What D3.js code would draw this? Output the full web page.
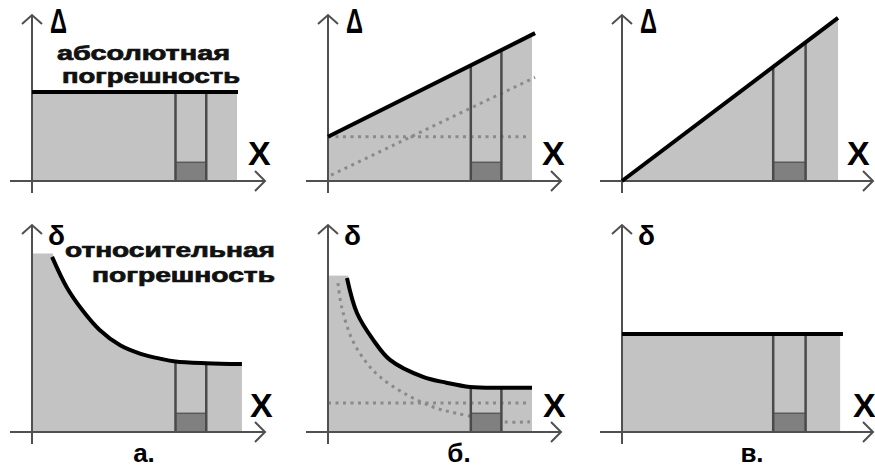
<!DOCTYPE html>
<html>
<head>
<meta charset="utf-8">
<script src="https://cdn.jsdelivr.net/npm/d3@7"></script>
<style>
  html, body { margin: 0; padding: 0; background: #fff; }
  svg { display: block; font-family: "Liberation Sans", Arial, sans-serif; }
</style>
</head>
<body>
<svg id="chart" width="875" height="470"></svg>
<script>
// measurement interval and the small reading box on the x axis
const interval = [7.0, 8.5];
const readingBox = 1.1;

// top row: absolute error Δ(x)
const absConst = [[0, 5.24], [10.05, 5.24]];
const absLinear = [[0, 2.6], [10.15, 8.7]];
const absLinearAdd = [[0, 2.6], [9.8, 2.6]];
const absLinearMul = [[0.15, 0.35], [10.15, 6.1]];
const absProp = [[0, 0], [10, 9.6]];

// bottom row: relative error δ(x)
const relConstAbs = [[0.98, 10.3], [1.7, 8.5], [2.5, 7.1], [3.3, 6.0], [4.3, 5.1],
                     [5.3, 4.6], [6.3, 4.3], [7.0, 4.15], [8.5, 4.05], [10.24, 4.0]];
const relLinear = [[0.93, 9.06], [1.42, 7.0], [2.2, 5.45], [3.04, 4.24], [4.66, 3.24],
                   [5.8, 2.9], [6.96, 2.65], [8.5, 2.6], [10.0, 2.6]];
const relLinearAdd = [[0, 1.7], [9.8, 1.7]];
const relLinearMul = [[0.49, 8.76], [0.67, 7.35], [1.2, 5.4], [1.9, 4.06], [2.55, 3.24],
                      [3.7, 2.3], [5.15, 1.47], [6.3, 1.1], [8.6, 0.6], [9.9, 0.6]];
const relProp = [[0, 5.76], [10.23, 5.76]];

const panelLetters = ["а.", "б.", "в."];
const absTitle = ["абсолютная", "погрешность"];
const relTitle = ["относительная", "погрешность"];

// layout
const COL_X = [32, 328, 622],
      COL_W = [205, 204, 216],
      ROW_Y = [181, 432],
      Y_SPAN = 170,
      X_LABEL_DX = [[216, 214, 225], [218, 215, 231]],
      LETTER_X = [144, 459, 752],
      FILL = "#c3c3c3",
      AXIS = "#505050";

const panels = [
  {row: 0, col: 0, main: absConst, dotted: [], fillEnd: 10.0, symbol: "Δ"},
  {row: 0, col: 1, main: absLinear, dotted: [absLinearAdd, absLinearMul], fillEnd: 10.0, symbol: "Δ"},
  {row: 0, col: 2, main: absProp, dotted: [], fillEnd: 10.0, symbol: "Δ"},
  {row: 1, col: 0, main: relConstAbs, dotted: [], fillEnd: 10.24, cap: [0.98, 10.5], symbol: "δ"},
  {row: 1, col: 1, main: relLinear, dotted: [relLinearAdd, relLinearMul], fillEnd: 10.0, cap: [0.93, 9.2], symbol: "δ"},
  {row: 1, col: 2, main: relProp, dotted: [], fillEnd: 10.1, symbol: "δ"}
];

function valueAt(pts, x) {
  if (x <= pts[0][0]) return pts[0][1];
  for (let i = 1; i < pts.length; i++) {
    if (x <= pts[i][0]) {
      let t = (x - pts[i - 1][0]) / (pts[i][0] - pts[i - 1][0]);
      return pts[i - 1][1] + t * (pts[i][1] - pts[i - 1][1]);
    }
  }
  return pts[pts.length - 1][1];
}

const svg = d3.select("#chart");
const smooth = d3.curveCatmullRom.alpha(0.5);

panels.forEach((p, i) => {
  let ox = COL_X[p.col],
      oy = ROW_Y[p.row],
      x = d3.scaleLinear().domain([0, 10]).range([ox, ox + COL_W[p.col]]),
      y = d3.scaleLinear().domain([0, 10]).range([oy, oy - Y_SPAN]);

  let g = svg.append("g").attr("class", "panel");

  let clipId = "clip" + i;
  g.append("clipPath").attr("id", clipId)
    .append("rect")
    .attr("x", x(0)).attr("y", 0)
    .attr("width", x(p.fillEnd) - x(0)).attr("height", 470);

  let area = d3.area()
      .x(d => x(d[0]))
      .y0(y(0))
      .y1(d => y(d[1]))
      .curve(smooth);

  let line = d3.line()
      .x(d => x(d[0]))
      .y(d => y(d[1]))
      .curve(smooth);

  // gray region under the error curve
  g.append("path")
    .attr("d", area(p.main))
    .attr("clip-path", "url(#" + clipId + ")")
    .attr("fill", FILL);

  if (p.cap) {
    g.append("rect")
      .attr("x", x(0)).attr("y", y(p.cap[1]))
      .attr("width", x(p.cap[0]) - x(0) + 1)
      .attr("height", y(0) - y(p.cap[1]))
      .attr("fill", FILL);
  }

  // components of the error, dotted
  p.dotted.forEach(pts => {
    g.append("path")
      .attr("d", line(pts))
      .attr("fill", "none")
      .attr("stroke", "#8a8a8a")
      .attr("stroke-width", 3)
      .attr("stroke-dasharray", "3,4.5");
  });

  // reading box
  g.append("rect")
    .attr("x", x(interval[0])).attr("y", y(readingBox))
    .attr("width", x(interval[1]) - x(interval[0]))
    .attr("height", y(0) - y(readingBox))
    .attr("fill", "#808080");
  g.append("line")
    .attr("x1", x(interval[0])).attr("x2", x(interval[1]))
    .attr("y1", y(readingBox)).attr("y2", y(readingBox))
    .attr("stroke", "#5a5a5a").attr("stroke-width", 1.5);

  // interval borders
  interval.forEach(v => {
    g.append("line")
      .attr("x1", x(v)).attr("x2", x(v))
      .attr("y1", y(0)).attr("y2", y(valueAt(p.main, v)))
      .attr("stroke", "#4a4a4a")
      .attr("stroke-width", 2.5);
  });

  // axes with open arrow heads
  let top = p.row == 0 ? 15 : 225,
      right = ox + (p.col == 2 ? 251 : 233);
  g.append("path")
    .attr("d", "M" + ox + "," + (oy + 12) + "V" + top +
               "M" + (ox - 10) + "," + (top + 9) + "L" + ox + "," + top + "L" + (ox + 10) + "," + (top + 9) +
               "M" + (ox - 22) + "," + oy + "H" + right +
               "M" + (right - 10) + "," + (oy - 10) + "L" + right + "," + oy + "L" + (right - 10) + "," + (oy + 10))
    .attr("fill", "none")
    .attr("stroke", AXIS)
    .attr("stroke-width", 2);

  // error curve
  g.append("path")
    .attr("d", line(p.main))
    .attr("fill", "none")
    .attr("stroke", "#000")
    .attr("stroke-width", 4);

  // axis names
  g.append("text")
    .attr("x", ox + (p.row == 0 ? 18 : 16))
    .attr("y", p.row == 0 ? 33 : 245)
    .attr("font-size", p.row == 0 ? 35 : 28)
    .attr("font-weight", "bold")
    .attr("textLength", 17)
    .attr("lengthAdjust", "spacingAndGlyphs")
    .text(p.symbol);

  g.append("text")
    .attr("x", ox + X_LABEL_DX[p.row][p.col])
    .attr("y", p.row == 0 ? 165 : 417)
    .attr("font-size", 34)
    .attr("font-weight", "bold")
    .text("X");

  if (p.row == 1) {
    svg.append("text")
      .attr("x", LETTER_X[p.col])
      .attr("y", 462)
      .attr("text-anchor", "middle")
      .attr("font-size", 26)
      .attr("font-weight", "bold")
      .text(panelLetters[p.col]);
  }
});

// two-line titles; smaller font plus a thin stroke keeps the lines from colliding
const titles = [
  {lines: absTitle, x: [57, 62], y: [60, 83], w: [173, 178]},
  {lines: relTitle, x: [65, 92], y: [257, 282], w: [210, 183]}
];

titles.forEach(t => {
  let txt = svg.append("text")
    .attr("font-size", 20)
    .attr("font-weight", "bold")
    .attr("fill", "#111")
    .attr("stroke", "#111")
    .attr("stroke-width", 0.7);
  t.lines.forEach((s, j) => {
    txt.append("tspan")
      .attr("x", t.x[j])
      .attr("y", t.y[j])
      .attr("textLength", t.w[j])
      .attr("lengthAdjust", "spacingAndGlyphs")
      .text(s);
  });
});
</script>
</body>
</html>
